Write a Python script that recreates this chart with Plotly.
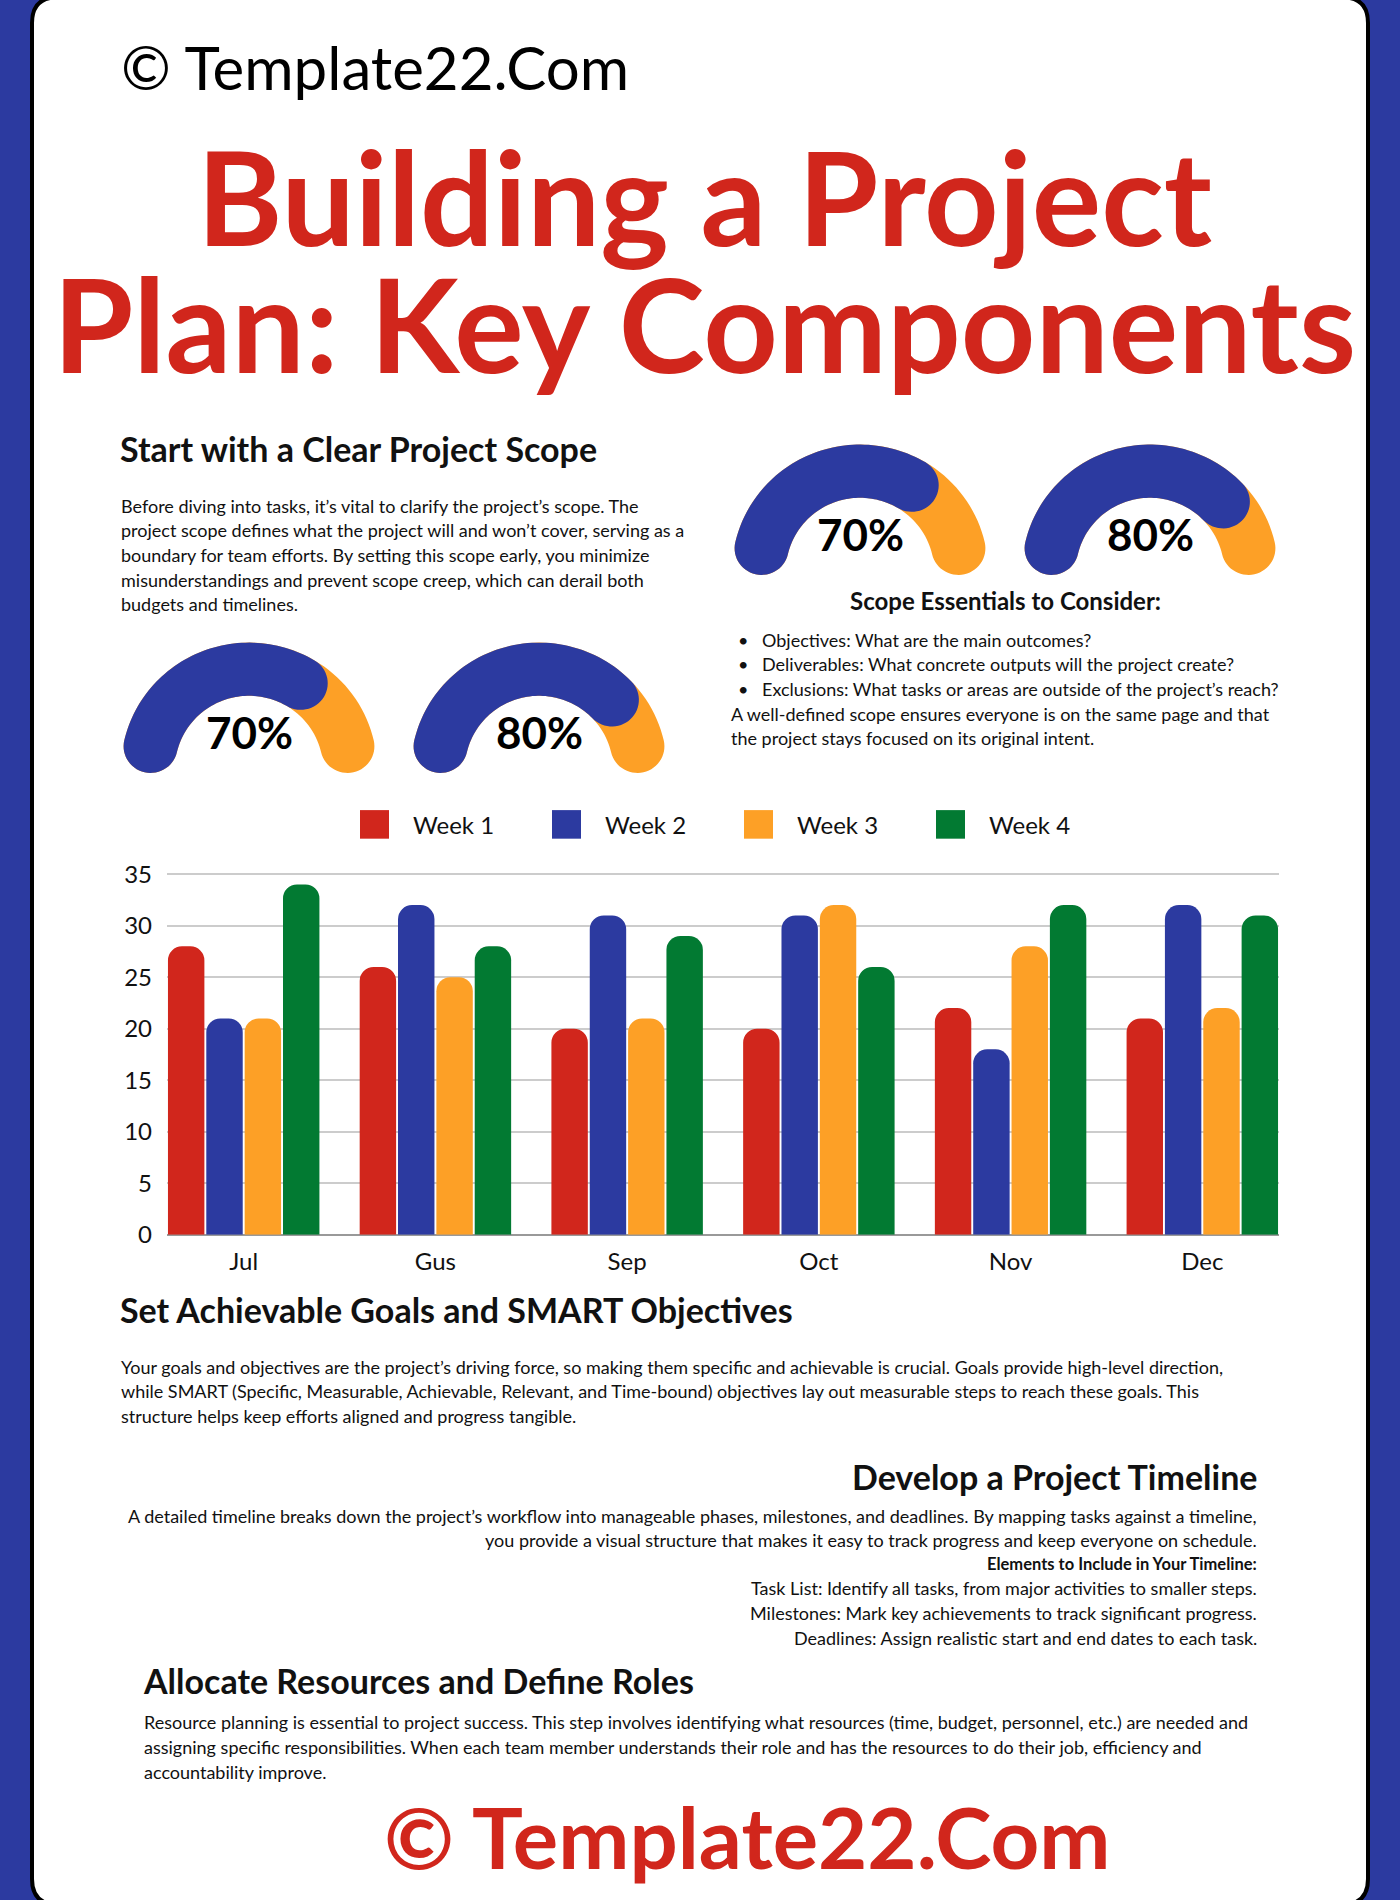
import math
import plotly.graph_objects as go

W, H = 1400, 1900

# ---------------- data ----------------
months = ["Jul", "Gus", "Sep", "Oct", "Nov", "Dec"]
week_names = ["Week 1", "Week 2", "Week 3", "Week 4"]
week1 = [28, 26, 20, 20, 22, 21]
week2 = [21, 32, 31, 31, 18, 32]
week3 = [21, 25, 21, 32, 28, 22]
week4 = [34, 28, 29, 26, 32, 31]
y_ticks = [0, 5, 10, 15, 20, 25, 30, 35]
gauge_values = [70, 80, 70, 80]
gauge_labels = ["70%", "80%", "70%", "80%"]

watermark = "© Template22.Com"
title_lines = ["Building a Project", "Plan: Key Components"]
h_scope = "Start with a Clear Project Scope"
p_scope = [
    "Before diving into tasks, it’s vital to clarify the project’s scope. The",
    "project scope defines what the project will and won’t cover, serving as a",
    "boundary for team efforts. By setting this scope early, you minimize",
    "misunderstandings and prevent scope creep, which can derail both",
    "budgets and timelines.",
]
h_essentials = "Scope Essentials to Consider:"
bullets = [
    "Objectives: What are the main outcomes?",
    "Deliverables: What concrete outputs will the project create?",
    "Exclusions: What tasks or areas are outside of the project’s reach?",
]
p_essentials = [
    "A well-defined scope ensures everyone is on the same page and that",
    "the project stays focused on its original intent.",
]
h_goals = "Set Achievable Goals and SMART Objectives"
p_goals = [
    "Your goals and objectives are the project’s driving force, so making them specific and achievable is crucial. Goals provide high-level direction,",
    "while SMART (Specific, Measurable, Achievable, Relevant, and Time-bound) objectives lay out measurable steps to reach these goals. This",
    "structure helps keep efforts aligned and progress tangible.",
]
h_timeline = "Develop a Project Timeline"
p_timeline = [
    "A detailed timeline breaks down the project’s workflow into manageable phases, milestones, and deadlines. By mapping tasks against a timeline,",
    "you provide a visual structure that makes it easy to track progress and keep everyone on schedule.",
]
h_elements = "Elements to Include in Your Timeline:"
p_elements = [
    "Task List: Identify all tasks, from major activities to smaller steps.",
    "Milestones: Mark key achievements to track significant progress.",
    "Deadlines: Assign realistic start and end dates to each task.",
]
h_resources = "Allocate Resources and Define Roles"
p_resources = [
    "Resource planning is essential to project success. This step involves identifying what resources (time, budget, personnel, etc.) are needed and",
    "assigning specific responsibilities. When each team member understands their role and has the resources to do their job, efficiency and",
    "accountability improve.",
]

# ---------------- style ----------------
BG_BLUE = "#2C3AA0"
RED = "#D1261C"
BLUE = "#2C3AA0"
ORANGE = "#FDA026"
GREEN = "#027A32"
INK = "#111111"
FONT = "Lato"
series_colors = [RED, BLUE, ORANGE, GREEN]
BODY = 18
HEAD = 34


def px(x):
    return x / W


def py(y):
    return 1 - y / H


shapes = []
annotations = []


def text(x, y, s, size, anchor="left", color=INK, bold=False):
    annotations.append(dict(
        x=px(x), y=py(y), xref="paper", yref="paper", text=("<b>%s</b>" % s) if bold else s,
        showarrow=False, xanchor=anchor, yanchor="middle",
        font=dict(family=FONT, size=size, color=color),
    ))


def rounded_rect(x0, y0, x1, y1, r):
    pts = [
        f"M {px(x0 + r)},{py(y0)}",
        f"L {px(x1 - r)},{py(y0)}",
        f"Q {px(x1)},{py(y0)} {px(x1)},{py(y0 + r)}",
        f"L {px(x1)},{py(y1 - r)}",
        f"Q {px(x1)},{py(y1)} {px(x1 - r)},{py(y1)}",
        f"L {px(x0 + r)},{py(y1)}",
        f"Q {px(x0)},{py(y1)} {px(x0)},{py(y1 - r)}",
        f"L {px(x0)},{py(y0 + r)}",
        f"Q {px(x0)},{py(y0)} {px(x0 + r)},{py(y0)}",
        "Z",
    ]
    return " ".join(pts)


shapes.append(dict(type="path", xref="paper", yref="paper", layer="below",
                   path=rounded_rect(32, -18, 1368, 1918, 26),
                   fillcolor="white", line=dict(color="black", width=4)))


def band_path(cx, cy, a0, a1, R, hw, n=60):
    pts = []
    for i in range(n + 1):
        a = math.radians(a0 + (a1 - a0) * i / n)
        pts.append((cx + (R + hw) * math.cos(a), cy - (R + hw) * math.sin(a)))
    u = (math.cos(math.radians(a1)), math.sin(math.radians(a1)))
    t = (math.sin(math.radians(a1)), -math.cos(math.radians(a1)))
    C = (R * u[0], R * u[1])
    for i in range(1, 30):
        s = math.pi * i / 30
        X = C[0] + hw * (math.cos(s) * u[0] + math.sin(s) * t[0])
        Y = C[1] + hw * (math.cos(s) * u[1] + math.sin(s) * t[1])
        pts.append((cx + X, cy - Y))
    for i in range(n + 1):
        a = math.radians(a1 + (a0 - a1) * i / n)
        pts.append((cx + (R - hw) * math.cos(a), cy - (R - hw) * math.sin(a)))
    u = (math.cos(math.radians(a0)), math.sin(math.radians(a0)))
    t = (-math.sin(math.radians(a0)), math.cos(math.radians(a0)))
    C = (R * u[0], R * u[1])
    for i in range(1, 30):
        s = math.pi * i / 30
        X = C[0] + hw * (-math.cos(s) * u[0] + math.sin(s) * t[0])
        Y = C[1] + hw * (-math.cos(s) * u[1] + math.sin(s) * t[1])
        pts.append((cx + X, cy - Y))
    return "M " + " L ".join(f"{px(x):.5f},{py(y):.5f}" for x, y in pts) + " Z"


gauge_centers = [(249, 765), (539, 765), (860, 564), (1150, 564)]
A_START, A_END = 167.0, 13.0
for (cx, cy), v, lab in zip(gauge_centers, gauge_values, gauge_labels):
    shapes.append(dict(type="path", xref="paper", yref="paper", layer="above",
                       path=band_path(cx, cy, A_START, A_END, 101, 27),
                       fillcolor=ORANGE, line=dict(width=0)))
    a_val = A_START - (A_START - A_END) * v / 100.0
    shapes.append(dict(type="path", xref="paper", yref="paper", layer="above",
                       path=band_path(cx, cy, A_START, a_val, 101, 27),
                       fillcolor=BLUE, line=dict(width=0)))
    text(cx, cy - 37, lab, 44, anchor="center", color="#000", bold=True)

# ---------------- texts ----------------
text(119, 53, watermark, 60, color="#000")
text(704, 184, title_lines[0], 130, anchor="center", color=RED, bold=True)
text(704, 313, title_lines[1], 130, anchor="center", color=RED, bold=True)

text(118, 440, h_scope, HEAD, bold=True)
for i, line in enumerate(p_scope):
    text(119, 498 + 25 * i, line, BODY)

text(1005, 594, h_essentials, 24, anchor="center", bold=True)
for i, line in enumerate(bullets):
    text(743, 634 + 25 * i, "•", BODY, anchor="center")
    text(760, 634 + 25 * i, line, BODY)
for i, line in enumerate(p_essentials):
    text(729, 709 + 25 * i, line, BODY)

text(118, 1314, h_goals, HEAD, bold=True)
for i, line in enumerate(p_goals):
    text(119, 1372 + 25 * i, line, BODY)

text(1259, 1483, h_timeline, HEAD, anchor="right", bold=True)
for i, line in enumerate(p_timeline):
    text(1259, 1523 + 25 * i, line, BODY, anchor="right")
text(1259, 1572, h_elements, 16.5, anchor="right", bold=True)
for i, line in enumerate(p_elements):
    text(1259, 1597 + 25 * i, line, BODY, anchor="right")

text(141, 1690, h_resources, HEAD, bold=True)
for i, line in enumerate(p_resources):
    text(142, 1733 + 25 * i, line, BODY)

text(382, 1848, watermark, 85, color=RED, bold=True)

# ---------------- legend (manual) ----------------
for i, (name, col) in enumerate(zip(week_names, series_colors)):
    x0 = 360 + 192 * i
    shapes.append(dict(type="rect", xref="paper", yref="paper", layer="above",
                       x0=px(x0), x1=px(x0 + 29), y0=py(836), y1=py(807),
                       fillcolor=col, line=dict(width=0)))
    text(x0 + 51, 822, name, 24)

# ---------------- bars ----------------
fig = go.Figure()
for name, vals, col in zip(week_names, [week1, week2, week3, week4], series_colors):
    fig.add_trace(go.Bar(x=months, y=vals, name=name, marker=dict(color=col, line=dict(width=0)),
                         hoverinfo="skip"))

fig.update_layout(
    width=W, height=H, autosize=False,
    margin=dict(l=0, r=0, t=0, b=0, pad=0),
    paper_bgcolor=BG_BLUE, plot_bgcolor="rgba(0,0,0,0)",
    showlegend=False,
    barmode="group", bargap=0.2, bargroupgap=0.05, barcornerradius=14,
    shapes=shapes, annotations=annotations,
    font=dict(family=FONT, color=INK),
    xaxis=dict(domain=[px(167), px(1279)], type="category", range=[-0.4, 5.4],
               showgrid=False, zeroline=False, showline=False, ticks="",
               tickfont=dict(family=FONT, size=24, color="#111"), ticklabelstandoff=10,
               fixedrange=True),
    yaxis=dict(domain=[py(1238), py(871)], range=[0, 35.1], tickvals=y_ticks,
               showgrid=True, gridcolor="#cccccc", gridwidth=2,
               zeroline=True, zerolinecolor="#999999", zerolinewidth=2,
               showline=False, ticks="", tickfont=dict(family=FONT, size=24, color="#111"),
               ticklabelstandoff=14, fixedrange=True),
)

fig.write_html("out.html", config={"displayModeBar": False},
               post_script="document.body.style.margin='0';document.body.style.overflow='hidden';")
